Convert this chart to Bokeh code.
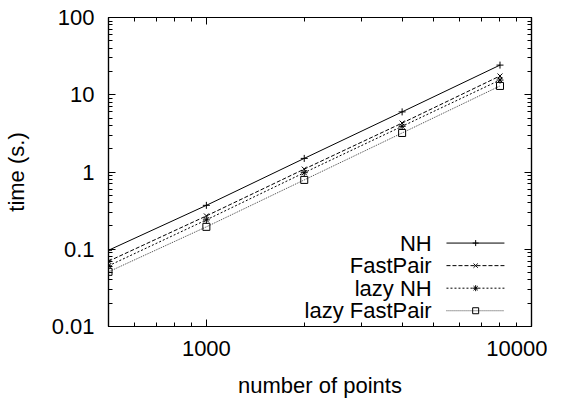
import math
from bokeh.plotting import figure
from bokeh.models import FixedTicker, LogAxis, CustomJSTickFormatter
from bokeh.core.properties import value
from bokeh.embed import file_html
from bokeh.resources import INLINE

# ---- data ----
n_points = [500, 1000, 2000, 4000, 8000]
nh = [0.097, 0.37, 1.5, 6.0, 24.2]
fastpair = [0.070, 0.27, 1.09, 4.3, 17.5]
lazy_nh = [0.061, 0.24, 0.98, 3.9, 15.5]
lazy_fastpair = [0.051, 0.195, 0.79, 3.2, 13.0]

series_names = ["NH", "FastPair", "lazy NH", "lazy FastPair"]

x_ticks = [1000, 10000]
x_tick_labels = ["1000", "10000"]
x_minor = [600, 700, 800, 900, 2000, 3000, 4000, 5000, 6000, 7000, 8000, 9000]
y_ticks = [0.01, 0.1, 1, 10, 100]
y_tick_labels = ["0.01", "0.1", "1", "10", "100"]
y_minor = [m * d for d in (0.01, 0.1, 1, 10) for m in range(2, 10)]

X0, X1 = 500, 10000
Y0, Y1 = 0.01, 100

FONT = "Liberation Sans"
FS = "22px"
FS_TITLE = "22px"

p = figure(frame_width=423, frame_height=309, x_axis_type="log", y_axis_type="log",
           x_range=(X0, X1), y_range=(Y0, Y1),
           output_backend="svg", toolbar_location=None,
           min_border_left=99, min_border_right=16, min_border_top=17,
           min_border_bottom=60)
p.grid.visible = False
p.outline_line_color = "black"
p.outline_line_width = 1.2
p.background_fill_color = "white"
p.border_fill_color = "white"

def style_axis(ax, ticks, minor, labels=None):
    ax.ticker = FixedTicker(ticks=ticks, minor_ticks=minor)
    ax.major_tick_in = 7
    ax.major_tick_out = 0
    ax.minor_tick_in = 4
    ax.minor_tick_out = 0
    ax.axis_line_color = "black"
    ax.axis_line_width = 1.2
    ax.major_tick_line_color = "black"
    ax.minor_tick_line_color = "black"
    ax.major_label_text_font = FONT
    ax.major_label_text_font_size = FS
    ax.major_label_text_color = "black"
    ax.axis_label_text_font = FONT
    ax.axis_label_text_font_size = FS_TITLE
    ax.axis_label_text_font_style = "normal"
    ax.axis_label_text_color = "black"
    if labels is not None:
        ax.major_label_overrides = {t: l for t, l in zip(ticks, labels)}

xa = p.xaxis[0]
ya = p.yaxis[0]
style_axis(xa, x_ticks, x_minor, x_tick_labels)
style_axis(ya, y_ticks, y_minor, y_tick_labels)
xa.axis_label = "number of points"
ya.axis_label = "time (s.)"
xa.major_label_standoff = 14
xa.axis_label_standoff = 14
ya.major_label_standoff = 14
ya.axis_label_standoff = 20

for loc, ticks, minor in (("above", x_ticks, x_minor), ("right", y_ticks, y_minor)):
    ax = LogAxis()
    style_axis(ax, ticks, minor)
    ax.formatter = CustomJSTickFormatter(code="return ''")
    ax.major_label_text_font_size = "0px"
    ax.major_label_standoff = 0
    p.add_layout(ax, loc)

styles = [
    (nh, "solid", "black", "cross"),
    (fastpair, "4 2", "black", "x"),
    (lazy_nh, "2 2", "black", "asterisk"),
    (lazy_fastpair, "1 1", "#444444", "square"),
]

for ys, dash, col, marker in styles:
    p.line(n_points, ys, line_color=col, line_dash=dash, line_width=1)
    p.scatter(n_points, ys, marker=marker, size=7, line_color="black",
              fill_color=None, line_width=1)

# ---- gnuplot-style key (label left, sample right) ----
def fx(f):
    return 10 ** (math.log10(X0) + f * (math.log10(X1) - math.log10(X0)))

def fy(f):
    return 10 ** (math.log10(Y0) + f * (math.log10(Y1) - math.log10(Y0)))

key_rows = [0.270, 0.197, 0.124, 0.051]
for name, (ys, dash, col, marker), fr in zip(series_names, styles, key_rows):
    yy = fy(fr)
    p.text(x=[fx(0.764)], y=[yy], text=[name], text_align="right",
           text_baseline="middle", text_font=value(FONT), text_font_size=FS,
           text_color="black")
    p.line([fx(0.799), fx(0.936)], [yy, yy], line_color=col, line_dash=dash,
           line_width=1)
    p.scatter([fx(0.868)], [yy], marker=marker, size=6, line_color="black",
              fill_color=None, line_width=1)

open("out.html", "w").write(file_html(p, INLINE))
